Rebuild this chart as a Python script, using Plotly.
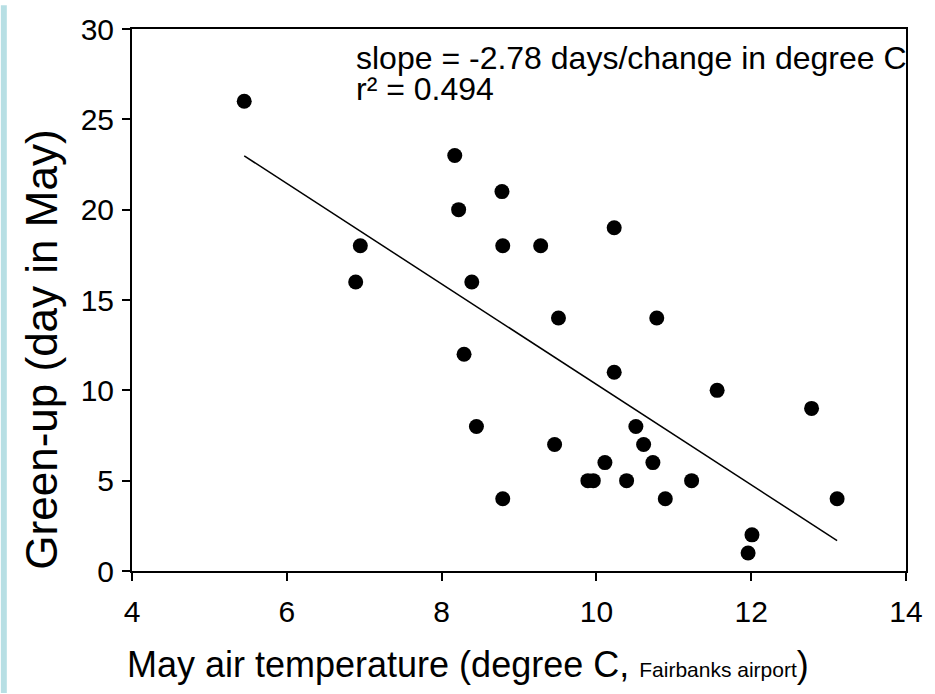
import plotly.graph_objects as go

# Data
may_air_temp = [5.45, 6.89, 6.95, 8.17, 8.22, 8.29, 8.39, 8.45, 8.78, 8.79, 8.79,
                9.28, 9.46, 9.51, 9.89, 9.96, 10.11, 10.23, 10.23, 10.51, 10.61,
                10.73, 10.39, 10.89, 10.78, 11.23, 11.56, 11.96, 12.01, 12.78, 13.11]
green_up_day = [26, 16, 18, 23, 20, 12, 16, 8, 21, 18, 4,
                18, 7, 14, 5, 5, 6, 11, 19, 8, 7,
                6, 5, 4, 14, 5, 10, 1, 2, 9, 4]

slope = -2.78
intercept = 38.13
r_squared = 0.494
fit_x = [min(may_air_temp), max(may_air_temp)]
fit_y = [intercept + slope * v for v in fit_x]

x_ticks = [4, 6, 8, 10, 12, 14]
y_ticks = [0, 5, 10, 15, 20, 25, 30]

W, H = 935, 694
ML, MR, MT, MB = 132, 24, 24, 123
PW, PH = W - ML - MR, H - MT - MB

FONT = "Liberation Sans, Arial, sans-serif"

fig = go.Figure()
fig.add_trace(go.Scatter(x=fit_x, y=fit_y, mode="lines",
                         line=dict(color="black", width=1.5), hoverinfo="skip"))
fig.add_trace(go.Scatter(x=may_air_temp, y=green_up_day, mode="markers",
                         marker=dict(color="black", size=15)))

axis_common = dict(showline=True, linecolor="black", linewidth=2, mirror=True,
                   ticks="outside", ticklen=8, tickwidth=2, tickcolor="black",
                   showgrid=False, zeroline=False,
                   tickfont=dict(family=FONT, size=30, color="black"))

fig.update_xaxes(range=[4, 14], tickvals=x_ticks, ticktext=[str(v) for v in x_ticks],
                 ticklabelstandoff=5, **axis_common)
fig.update_yaxes(range=[0, 30], tickvals=y_ticks, ticktext=[str(v) for v in y_ticks],
                 ticklabelstandoff=2, **axis_common)

fig.add_annotation(xref="paper", yref="paper", x=(355 - ML) / PW, y=(MT + PH - 53) / PH,
                   xanchor="left", yanchor="middle", showarrow=False,
                   text=f"slope = {slope} days/change in degree C",
                   font=dict(family=FONT, size=32, color="black"))
fig.add_annotation(xref="paper", yref="paper", x=(355 - ML) / PW, y=(MT + PH - 85) / PH,
                   xanchor="left", yanchor="middle", showarrow=False,
                   text=f"r² = {r_squared}",
                   font=dict(family=FONT, size=32, color="black"))

fig.add_annotation(xref="paper", yref="paper", x=(470 - ML) / PW, y=(MT + PH - 665) / PH,
                   xanchor="center", yanchor="middle", showarrow=False,
                   text="May air temperature (degree C, <span style='font-size:21px'>Fairbanks airport</span>)",
                   font=dict(family=FONT, size=36, color="black"))
fig.add_annotation(xref="paper", yref="paper", x=(40 - ML) / PW, y=(MT + PH - 348) / PH,
                   xanchor="center", yanchor="middle", showarrow=False, textangle=-90,
                   text="Green-up (day in May)",
                   font=dict(family=FONT, size=44, color="black"))

fig.add_shape(type="rect", xref="paper", yref="paper", layer="below",
              x0=-ML / PW, x1=(6 - ML) / PW, y0=-MB / PH, y1=1 + MT / PH,
              fillcolor="#B7DFE4", line=dict(width=0))

fig.update_layout(width=W, height=H, margin=dict(l=ML, r=MR, t=MT, b=MB),
                  paper_bgcolor="white", plot_bgcolor="white", showlegend=False)

fig.write_html("out.html", config={"displayModeBar": False},
               post_script="document.body.style.margin='0';")
